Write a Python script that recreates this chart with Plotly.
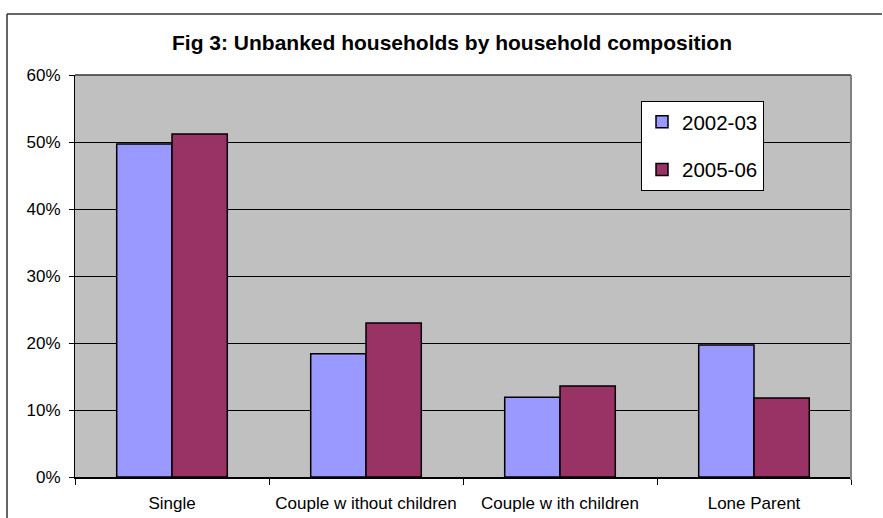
import plotly.graph_objects as go

# Share of unbanked households, by household composition
categories = ["Single", "Couple w ithout children", "Couple w ith children", "Lone Parent"]
share_2002_03 = [0.497, 0.184, 0.119, 0.197]
share_2005_06 = [0.512, 0.230, 0.136, 0.118]
y_ticks = [0, 0.1, 0.2, 0.3, 0.4, 0.5, 0.6]
y_tick_labels = ["0%", "10%", "20%", "30%", "40%", "50%", "60%"]

W, H = 883, 518
L, R, T, B = 75, 32, 75, 41
PW, PH = W - L - R, H - T - B


def px_x(x):
    """Pixel column -> paper x."""
    return (x - L) / PW


def px_y(y):
    """Pixel row -> paper y."""
    return (H - B - y) / PH


fig = go.Figure()
fig.add_trace(go.Bar(
    x=categories, y=share_2002_03, name="2002-03", legendgroup="a",
    marker=dict(color="#9999FF", line=dict(color="#000000", width=1.5)),
))
fig.add_trace(go.Bar(
    x=categories, y=share_2005_06, name="2005-06", legendgroup="b",
    marker=dict(color="#993366", line=dict(color="#000000", width=1.5)),
))

font_family = "Liberation Sans, Arial, sans-serif"

fig.update_layout(
    width=W, height=H,
    margin=dict(l=L, r=R, t=T, b=B, autoexpand=False),
    paper_bgcolor="#FFFFFF",
    plot_bgcolor="#C0C0C0",
    barmode="group",
    bargap=0.43,
    bargroupgap=0,
    font=dict(family=font_family, size=17, color="#000000"),
    title=dict(
        text="<b>Fig 3: Unbanked households by household composition</b>",
        x=452 / W, xanchor="center", xref="container",
        y=1 - 43 / H, yanchor="middle", yref="container",
        font=dict(family=font_family, size=21, color="#000000"),
    ),
    legend=dict(
        x=px_x(641), xanchor="left",
        y=px_y(101), yanchor="top",
        bgcolor="#FFFFFF", bordercolor="#000000", borderwidth=1,
        font=dict(family=font_family, size=20.5, color="#000000"),
        tracegroupgap=18,
        itemclick=False,
    ),
    xaxis=dict(
        automargin=False,
        showgrid=False,
        showline=True, linecolor="#000000", linewidth=1.5,
        ticks="outside", tickson="boundaries", ticklen=6, tickcolor="#000000",
        ticklabelstandoff=10,
        tickfont=dict(size=17),
        fixedrange=True,
    ),
    yaxis=dict(
        automargin=False,
        range=[0, 0.6],
        tickvals=y_ticks, ticktext=y_tick_labels,
        showgrid=True, gridcolor="#000000", gridwidth=1,
        showline=True, linecolor="#000000", linewidth=1,
        ticks="outside", ticklen=5, tickcolor="#000000",
        ticklabelstandoff=5,
        tickfont=dict(size=17),
        zeroline=False,
        fixedrange=True,
    ),
    shapes=[
        # plot-area frame (top and right edges)
        dict(type="line", xref="paper", yref="paper", x0=0, x1=1, y0=1, y1=1,
             line=dict(color="#333333", width=1.5)),
        dict(type="line", xref="paper", yref="paper", x0=1, x1=1, y0=px_y(480), y1=1,
             line=dict(color="#808080", width=2)),
        # chart-area border (top and left edges)
        dict(type="line", xref="paper", yref="paper",
             x0=px_x(7), x1=px_x(W - 1), y0=px_y(14), y1=px_y(14),
             line=dict(color="#333333", width=1.5)),
        dict(type="line", xref="paper", yref="paper",
             x0=px_x(7), x1=px_x(7), y0=px_y(14), y1=px_y(H),
             line=dict(color="#333333", width=1.5)),
    ],
)

fig.write_html("out.html")
